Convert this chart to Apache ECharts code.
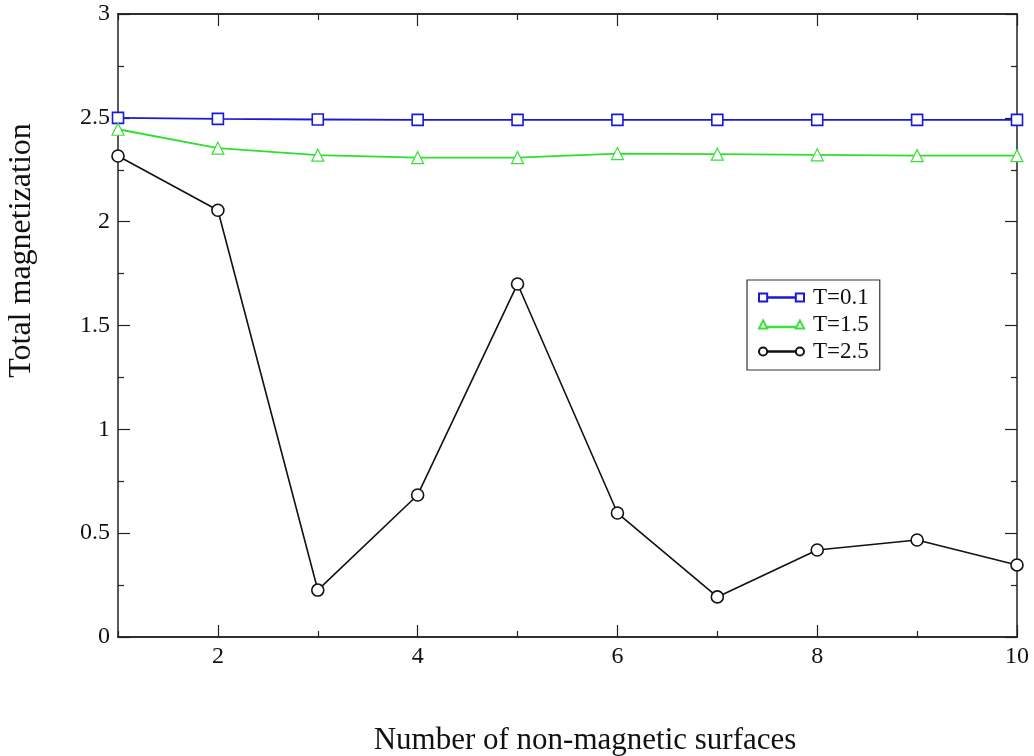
<!DOCTYPE html>
<html><head><meta charset="utf-8">
<script src="https://cdn.jsdelivr.net/npm/echarts@6/dist/echarts.min.js"></script>
<style>html,body{margin:0;padding:0;background:#fff}#c{width:1034px;height:756px}</style>
</head><body><div id="c"></div>
<script>
const xValues = [1, 2, 3, 4, 5, 6, 7, 8, 9, 10];
const t01 = [2.50, 2.495, 2.492, 2.49, 2.49, 2.49, 2.49, 2.49, 2.49, 2.49];
const t15 = [2.445, 2.354, 2.32, 2.308, 2.308, 2.328, 2.325, 2.322, 2.318, 2.318];
const t25 = [2.316, 2.055, 0.226, 0.684, 1.70, 0.597, 0.193, 0.419, 0.467, 0.347];
const xMajorTicks = [2, 4, 6, 8, 10];
const xMinorTicks = [1, 3, 5, 7, 9];
const seriesNames = ['T=0.1', 'T=1.5', 'T=2.5'];

const FONT = '"Liberation Serif", "DejaVu Serif", serif';
const AX = '#222';
const pair = (arr) => xValues.map((x, i) => [x, arr[i]]);

function xAx(pos, major, showLabel) {
  return {
    type: 'value', position: pos, min: 1, max: 10, interval: 1,
    axisLine: { show: true, onZero: false, lineStyle: { color: AX, width: 1.5 } },
    axisTick: { show: true, inside: true, length: 12, customValues: major ? xMajorTicks : xMinorTicks, lineStyle: { color: AX, width: 1.2 } },
    axisLabel: { show: showLabel, customValues: xMajorTicks, fontFamily: FONT, fontSize: 24, color: '#111', margin: 8 },
    splitLine: { show: false },
    name: showLabel ? 'Number of non-magnetic surfaces' : '',
    nameLocation: 'middle', nameGap: 88,
    nameTextStyle: { fontFamily: FONT, fontSize: 31, color: '#111', padding: [0, 0, 0, 35] }
  };
}
function xAxMinor(pos) {
  const a = xAx(pos, false, false);
  a.axisTick.length = 6;
  return a;
}
function yAx(pos, showLabel) {
  return {
    type: 'value', position: pos, min: 0, max: 3, interval: 0.5,
    axisLine: { show: true, onZero: false, lineStyle: { color: AX, width: 1.5 } },
    axisTick: { show: true, inside: true, length: 12, lineStyle: { color: AX, width: 1.2 } },
    minorTick: { show: true, splitNumber: 2, length: 6, lineStyle: { color: AX, width: 1.2 } },
    axisLabel: { show: showLabel, fontFamily: FONT, fontSize: 24, color: '#111', margin: 8 },
    splitLine: { show: false },
    name: showLabel ? 'Total magnetization' : '',
    nameLocation: 'middle', nameGap: 80,
    nameTextStyle: { fontFamily: FONT, fontSize: 32, color: '#111', padding: [0, 0, 0, 150] }
  };
}

const chart = echarts.init(document.getElementById('c'), null, { renderer: 'canvas' });
chart.setOption({
  animation: false,
  backgroundColor: '#fff',
  grid: { left: 118, right: 17, top: 14, bottom: 119, containLabel: false, outerBoundsMode: 'none' },
  xAxis: [xAx('bottom', true, true), xAxMinor('bottom'), xAx('top', true, false), xAxMinor('top')],
  yAxis: [yAx('left', true), yAx('right', false)],
  legend: {
    orient: 'vertical', left: 747, top: 280, padding: [6, 11, 7, 11],
    itemWidth: 45, itemHeight: 9, itemGap: 4,
    borderColor: '#333', borderWidth: 1.2, backgroundColor: '#fff',
    textStyle: { fontFamily: FONT, fontSize: 23, lineHeight: 23, color: '#111', padding: [0, 0, 0, 4] },
    data: [
      { name: seriesNames[0], icon: 'path://M0,0h10v10h-10z M10,4.6h35v0.8h-35z M45,0h10v10h-10z' },
      { name: seriesNames[1], icon: 'path://M5,0L10,10h-10z M10,7.6h35v0.8h-35z M50,0L55,10h-10z' },
      { name: seriesNames[2], icon: 'path://M0,5a5,5 0 1,0 10,0a5,5 0 1,0 -10,0z M10,4.6h35v0.8h-35z M45,5a5,5 0 1,0 10,0a5,5 0 1,0 -10,0z' }
    ]
  },
  series: [
    { name: seriesNames[0], type: 'line', data: pair(t01), symbol: 'rect', symbolSize: 11,
      lineStyle: { color: '#1a1ad6', width: 1.8 }, itemStyle: { color: '#fff', borderColor: '#1a1ad6', borderWidth: 1.6 } },
    { name: seriesNames[1], type: 'line', data: pair(t15), symbol: 'triangle', symbolSize: 12,
      lineStyle: { color: '#2ee02e', width: 1.8 }, itemStyle: { color: '#fff', borderColor: '#3be03b', borderWidth: 1.2 } },
    { name: seriesNames[2], type: 'line', data: pair(t25), symbol: 'circle', symbolSize: 12,
      lineStyle: { color: '#111', width: 1.6 }, itemStyle: { color: '#fff', borderColor: '#111', borderWidth: 1.6 } }
  ]
});
</script></body></html>
